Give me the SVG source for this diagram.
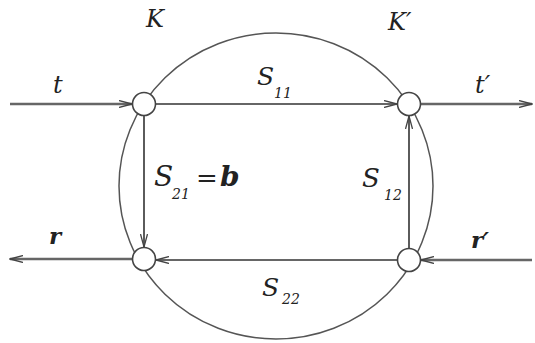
<svg xmlns="http://www.w3.org/2000/svg" width="535" height="343" viewBox="0 0 535 343">
<defs>
<style>
.ln{stroke:#333;stroke-width:1.6;fill:none}
.ext{stroke:#666;stroke-width:2.4;fill:none}
.node{fill:#fff;stroke:#444;stroke-width:1.6}
.lbl{font-family:"DejaVu Serif",serif;font-style:italic;fill:#222}
.sub{font-size:14px}
.bold{font-weight:bold}
</style>
<marker id="ah" viewBox="0 0 14 8" refX="13" refY="4" markerWidth="14" markerHeight="8" markerUnits="userSpaceOnUse" orient="auto">
<path d="M0,0.5 L13,4 L0,7.5" fill="none" stroke="#444" stroke-width="1.3"/>
</marker>
</defs>
<rect width="535" height="343" fill="#fff"/>
<g id="circle">
<ellipse cx="276" cy="186" rx="157" ry="153" fill="none" stroke="#555" stroke-width="1.5"/>
</g>
<g id="connectors">
<line class="ext" x1="10" y1="104" x2="132" y2="104" marker-end="url(#ah)"/>
<line class="ext" x1="421" y1="104" x2="532" y2="104" marker-end="url(#ah)"/>
<line class="ext" x1="132" y1="259" x2="10" y2="259" marker-end="url(#ah)"/>
<line class="ext" x1="532" y1="260" x2="421" y2="260" marker-end="url(#ah)"/>
<line class="ln" x1="156" y1="104" x2="397" y2="104" marker-end="url(#ah)"/>
<line class="ln" x1="144" y1="116" x2="144" y2="247" marker-end="url(#ah)"/>
<line class="ln" x1="409" y1="248" x2="409" y2="116" marker-end="url(#ah)"/>
<line class="ln" x1="397" y1="260" x2="156" y2="260" marker-end="url(#ah)"/>
</g>
<g id="nodeK"><circle class="node" cx="144" cy="104" r="11.5"/></g>
<g id="nodeKp"><circle class="node" cx="409" cy="104" r="11.5"/></g>
<g id="nodeR"><circle class="node" cx="144" cy="259" r="11.5"/></g>
<g id="nodeRp"><circle class="node" cx="409" cy="260" r="11.5"/></g>
<g id="labels">
<text class="lbl" x="146" y="27" font-size="24">K</text>
<text class="lbl" x="388" y="30" font-size="24">K′</text>
<text class="lbl" x="53" y="93" font-size="24">t</text>
<text class="lbl" x="475" y="93" font-size="24">t′</text>
<text class="lbl bold" x="49" y="244" font-size="23">r</text>
<text class="lbl bold" x="471" y="248" font-size="23">r′</text>
<text class="lbl" x="257" y="85" font-size="25">S</text><text class="lbl sub" x="274" y="98">11</text>
<text class="lbl" x="154" y="186" font-size="28">S</text><text class="lbl sub" x="172" y="199">21</text>
<text class="lbl" x="196" y="187" font-size="26">=</text>
<text class="lbl bold" x="220" y="186" font-size="28">b</text>
<text class="lbl" x="362" y="187" font-size="26">S</text><text class="lbl sub" x="384" y="200">12</text>
<text class="lbl" x="262" y="296" font-size="25">S</text><text class="lbl sub" x="282" y="304">22</text>
</g>
</svg>
